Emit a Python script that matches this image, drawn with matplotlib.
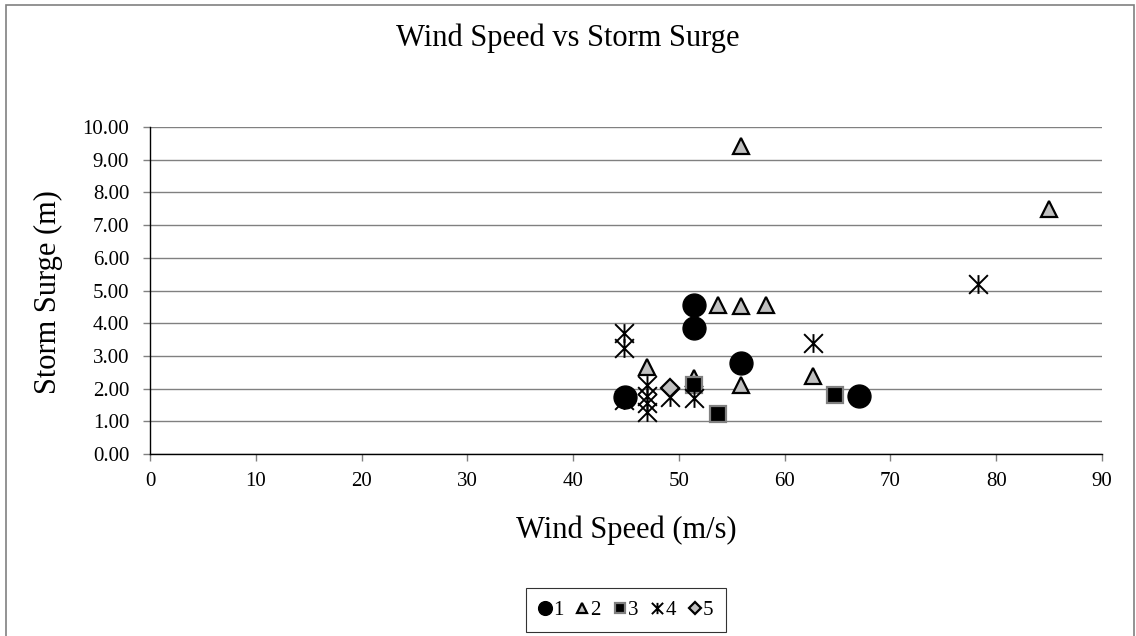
import matplotlib
matplotlib.use("Agg")
import matplotlib.pyplot as plt
from matplotlib.path import Path
from matplotlib.patches import Rectangle

plt.rcParams['font.family'] = ['Liberation Serif', 'DejaVu Serif']

# series 1 .. 5 (wind speed m/s, storm surge m)
s1_x = [44.9, 51.4, 51.4, 55.9, 67.0]
s1_y = [1.75, 4.55, 3.85, 2.78, 1.78]

s2_x = [55.9, 85.0, 53.7, 55.9, 58.2, 47.0, 51.4, 55.9, 62.7]
s2_y = [9.42, 7.49, 4.57, 4.52, 4.55, 2.66, 2.32, 2.10, 2.39]

s3_x = [51.4, 53.7, 64.8]
s3_y = [2.12, 1.22, 1.80]

s4_x = [44.8, 44.8, 44.8, 47.0, 47.0, 47.0, 47.0, 49.2, 51.4, 62.7, 78.3]
s4_y = [3.70, 3.25, 1.65, 2.10, 1.78, 1.55, 1.28, 1.75, 1.72, 3.39, 5.20]

s5_x = [49.2]
s5_y = [2.03]

x_ticks = list(range(0, 100, 10))
y_ticks = [i * 1.0 for i in range(11)]

# Excel style asterisk: X with a vertical bar
star = Path([(-1, -1), (1, 1), (-1, 1), (1, -1), (0, -1), (0, 1)],
            [Path.MOVETO, Path.LINETO, Path.MOVETO, Path.LINETO, Path.MOVETO, Path.LINETO])

fig = plt.figure(figsize=(11.36, 6.36), dpi=100)
ax = fig.add_axes([150 / 1136, 1 - 454 / 636, 952 / 1136, 327 / 636])

ax.plot(s1_x, s1_y, ls='none', marker='o', ms=16.5, mfc='black', mec='black', zorder=5, label='1')
ax.plot(s2_x, s2_y, ls='none', marker='^', ms=12, mfc='#c0c0c0', mec='black', mew=1.6, zorder=3, label='2')
ax.plot(s3_x, s3_y, ls='none', marker='s', ms=11, mfc='black', mec='#808080', mew=1.6, zorder=4, label='3')
ax.plot(s4_x, s4_y, ls='none', marker=star, ms=13.5, mfc='none', mec='black', mew=1.4, zorder=4.5, label='4')
ax.plot(s5_x, s5_y, ls='none', marker='D', ms=9.5, mfc='#c0c0c0', mec='black', mew=1.6, zorder=5, label='5')

ax.set_xlim(0, 90)
ax.set_ylim(0, 10)
ax.set_xticks(x_ticks)
ax.set_yticks(y_ticks)
ax.set_yticklabels([f'{v:.2f}' for v in y_ticks])
ax.tick_params(labelsize=15, length=5, color='#808080', width=1)
ax.tick_params(axis='x', pad=8)
ax.tick_params(axis='y', pad=10)
ax.yaxis.grid(True, color='#808080', lw=1)
ax.set_axisbelow(True)
for side in ['top', 'right']:
    ax.spines[side].set_visible(False)
for side in ['left', 'bottom']:
    ax.spines[side].set_color('black')
    ax.spines[side].set_linewidth(1)

fig.text(568 / 1136, 1 - 38 / 636, 'Wind Speed vs Storm Surge', ha='center', va='center', fontsize=22)
fig.text(626 / 1136, 1 - 530 / 636, 'Wind Speed (m/s)', ha='center', va='center', fontsize=22)
fig.text(48 / 1136, 1 - 292 / 636, 'Storm Surge (m)', ha='center', va='center', fontsize=22, rotation=90)

leg = ax.legend(loc='center', bbox_to_anchor=(0.5, (454 - 610) / 327), ncol=5, fontsize=15,
                markerscale=0.6, handlelength=0.6, handletextpad=0.1, columnspacing=0.6,
                frameon=True, fancybox=False, edgecolor='black', borderpad=0.6)
leg.get_frame().set_linewidth(0.8)

fig.patches.append(Rectangle((6 / 1136, -0.01), 1128 / 1136, 1 - 5 / 636 + 0.01,
                             transform=fig.transFigure, fill=False, edgecolor='#808080', lw=1.2))

fig.savefig('out.png', dpi=100)
